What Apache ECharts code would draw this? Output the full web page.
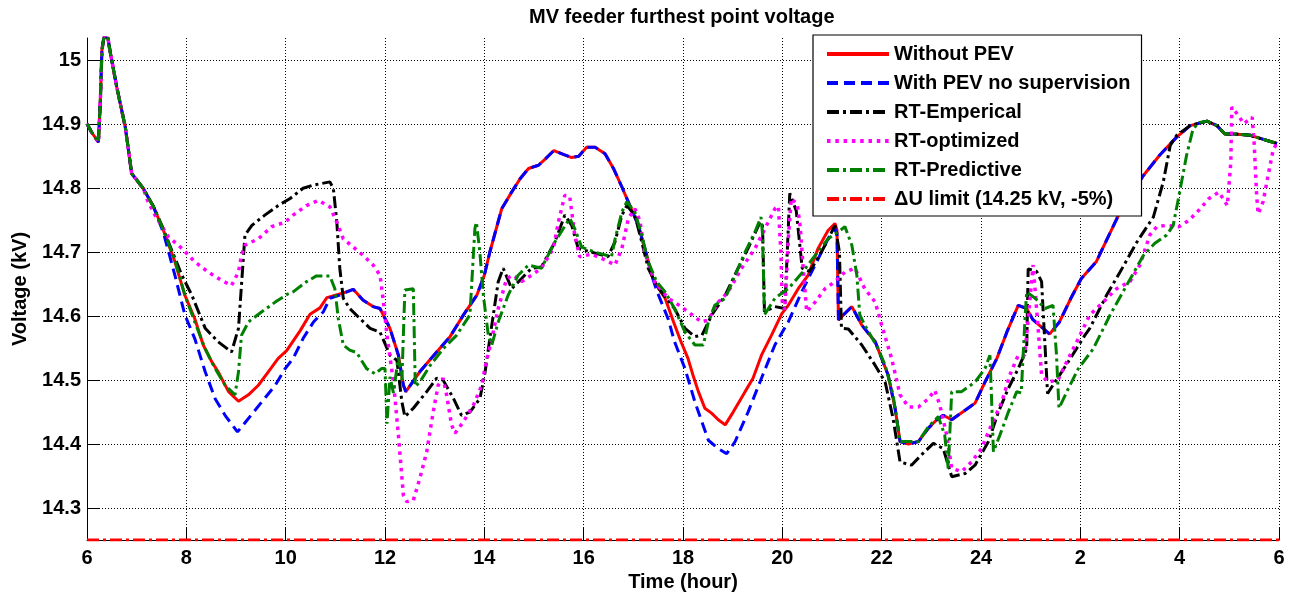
<!DOCTYPE html>
<html><head><meta charset="utf-8">
<script src="https://cdn.jsdelivr.net/npm/echarts@6/dist/echarts.min.js"></script>
<style>html,body{margin:0;padding:0;background:#fff}#c{width:1293px;height:599px}</style>
</head><body><div id="c"></div>
<script>
// ---- tick labels ----
const xTickLabels = ['6','8','10','12','14','16','18','20','22','24','2','4','6'];
const yTickValues = [14.3,14.4,14.5,14.6,14.7,14.8,14.9,15.0];
const yTickLabels = ['14.3','14.4','14.5','14.6','14.7','14.8','14.9','15'];
const seriesNames = ['Without PEV','With PEV no supervision','RT-Emperical','RT-optimized','RT-Predictive','\u0394U limit (14.25 kV, -5%)'];

// ---- data: [hour, kV] ----
const commonStart = [[6.0,14.901],[6.09,14.888],[6.23,14.872],[6.27,14.94],[6.30,15.016],[6.34,15.036],[6.42,15.036],[6.46,15.016],[6.60,14.958],[6.77,14.896],[6.90,14.823],[7.13,14.80]];

const withoutPevEarly = [[7.34,14.771],[7.54,14.734],[7.77,14.685],[7.97,14.633],[8.17,14.596],[8.34,14.555],[8.51,14.529],[8.64,14.513],[8.85,14.482],[9.05,14.467],[9.25,14.477],[9.45,14.492],[9.65,14.513],[9.85,14.534],[10.02,14.546],[10.29,14.577],[10.49,14.603],[10.69,14.613],[10.83,14.629],[11.23,14.638]];

const redBlueMid = [[11.36,14.642],[11.56,14.625],[11.76,14.615],[11.90,14.612],[12.10,14.581],[12.27,14.539],[12.37,14.492],[12.42,14.482],[12.70,14.513],[13.04,14.544],[13.31,14.568],[13.58,14.602],[13.85,14.633],[14.0,14.664],[14.11,14.70],[14.35,14.768],[14.55,14.794],[14.72,14.815],[14.89,14.831],[15.09,14.836],[15.23,14.846],[15.40,14.859],[15.59,14.853],[15.76,14.848],[15.90,14.850],[16.06,14.864],[16.23,14.864],[16.43,14.854],[16.60,14.831],[16.77,14.802],[16.93,14.773],[17.10,14.742],[17.27,14.695],[17.37,14.664]];

const withoutPevEvening = [[17.47,14.648],[17.64,14.628],[17.81,14.591],[17.96,14.560],[18.10,14.534],[18.20,14.508],[18.31,14.482],[18.44,14.456],[18.58,14.448],[18.71,14.438],[18.85,14.430],[19.01,14.450],[19.25,14.482],[19.41,14.503],[19.58,14.539],[19.78,14.570],[19.99,14.604],[20.12,14.617],[20.32,14.643],[20.52,14.664],[20.72,14.706],[20.92,14.734],[21.06,14.745],[21.10,14.735]];

const redBlueLate = [[21.13,14.594],[21.23,14.602],[21.40,14.615],[21.60,14.586],[21.87,14.560],[22.13,14.508],[22.27,14.456],[22.37,14.404],[22.54,14.400],[22.74,14.404],[22.94,14.425],[23.11,14.438],[23.24,14.445],[23.41,14.438],[23.68,14.453],[23.88,14.464],[24.08,14.497],[24.32,14.534],[24.52,14.575],[24.75,14.617],[24.92,14.612],[25.04,14.595],[25.38,14.572],[25.58,14.591],[25.81,14.628],[26.02,14.659],[26.32,14.685],[26.80,14.763],[27.27,14.820],[27.60,14.852],[27.94,14.880],[28.21,14.898]];

const tailEnd = [[28.55,14.905],[28.75,14.898],[28.91,14.885],[29.08,14.885],[29.42,14.883],[29.62,14.878],[29.96,14.870]];

const withPevEarly = [[7.34,14.771],[7.54,14.730],[7.77,14.664],[7.97,14.602],[8.17,14.565],[8.38,14.513],[8.58,14.471],[8.78,14.445],[9.03,14.419],[9.25,14.440],[9.52,14.466],[9.79,14.492],[9.99,14.518],[10.15,14.534],[10.35,14.565],[10.56,14.591],[10.76,14.607],[10.89,14.628],[11.09,14.633],[11.23,14.638]];

const withPevEvening = [[17.47,14.640],[17.70,14.596],[17.83,14.560],[18.04,14.518],[18.24,14.466],[18.51,14.406],[18.71,14.393],[18.88,14.385],[19.05,14.404],[19.31,14.450],[19.58,14.503],[19.85,14.555],[20.12,14.591],[20.39,14.638],[20.66,14.680],[20.92,14.721],[21.06,14.737],[21.10,14.730]];

const rtEmpirical = [[7.34,14.771],[7.54,14.736],[7.64,14.716],[7.91,14.664],[8.11,14.633],[8.38,14.581],[8.64,14.560],[8.91,14.544],[9.05,14.581],[9.18,14.727],[9.32,14.742],[9.58,14.758],[9.85,14.773],[10.09,14.784],[10.35,14.80],[10.56,14.805],[10.89,14.81],[10.96,14.80],[11.03,14.747],[11.09,14.675],[11.16,14.628],[11.29,14.612],[11.50,14.596],[11.70,14.581],[11.90,14.575],[12.10,14.539],[12.24,14.531],[12.34,14.466],[12.40,14.443],[12.57,14.456],[12.84,14.482],[13.04,14.503],[13.17,14.50],[13.38,14.471],[13.54,14.445],[13.71,14.45],[13.91,14.471],[14.01,14.51],[14.15,14.586],[14.28,14.654],[14.38,14.675],[14.55,14.643],[14.75,14.659],[14.95,14.675],[15.15,14.677],[15.42,14.716],[15.62,14.758],[15.76,14.742],[15.89,14.706],[16.16,14.70],[16.49,14.693],[16.63,14.716],[16.77,14.758],[16.87,14.773],[17.03,14.758],[17.17,14.716],[17.30,14.675],[17.47,14.648],[17.64,14.63],[17.83,14.612],[18.04,14.581],[18.24,14.568],[18.38,14.57],[18.58,14.602],[18.85,14.633],[19.11,14.675],[19.31,14.706],[19.55,14.747],[19.60,14.745],[19.64,14.607],[19.85,14.615],[20.05,14.612],[20.15,14.792],[20.28,14.765],[20.40,14.675],[20.55,14.67],[20.75,14.695],[20.92,14.72],[21.06,14.742],[21.15,14.70],[21.19,14.581],[21.33,14.58],[21.60,14.555],[21.87,14.523],[22.07,14.497],[22.23,14.440],[22.37,14.372],[22.60,14.367],[22.80,14.383],[23.04,14.401],[23.24,14.393],[23.41,14.349],[23.68,14.354],[23.88,14.367],[24.15,14.404],[24.35,14.450],[24.55,14.487],[24.75,14.518],[24.92,14.549],[24.95,14.674],[25.12,14.67],[25.22,14.654],[25.34,14.479],[25.49,14.497],[25.76,14.529],[26.09,14.570],[26.19,14.581],[26.53,14.633],[26.80,14.669],[27.14,14.716],[27.47,14.755],[27.67,14.81],[27.81,14.867],[27.94,14.883],[28.21,14.898]];

const rtOptimized = [[7.23,14.779],[7.37,14.758],[7.64,14.724],[7.91,14.706],[8.17,14.685],[8.44,14.669],[8.71,14.656],[8.91,14.648],[9.05,14.669],[9.11,14.695],[9.18,14.711],[9.45,14.721],[9.72,14.740],[9.99,14.747],[10.15,14.758],[10.42,14.773],[10.66,14.781],[10.89,14.771],[11.03,14.747],[11.16,14.721],[11.36,14.708],[11.56,14.695],[11.76,14.680],[11.90,14.664],[11.97,14.622],[12.04,14.570],[12.17,14.497],[12.27,14.414],[12.37,14.320],[12.44,14.310],[12.57,14.312],[12.70,14.346],[12.84,14.388],[12.97,14.450],[13.07,14.492],[13.17,14.503],[13.24,14.477],[13.34,14.430],[13.41,14.417],[13.58,14.435],[13.78,14.461],[13.95,14.492],[14.01,14.518],[14.15,14.565],[14.28,14.612],[14.45,14.659],[14.58,14.664],[14.75,14.654],[14.95,14.664],[15.15,14.675],[15.39,14.706],[15.49,14.747],[15.62,14.789],[15.72,14.787],[15.82,14.727],[15.92,14.693],[16.16,14.697],[16.43,14.688],[16.63,14.680],[16.77,14.706],[16.90,14.753],[17.03,14.768],[17.13,14.75],[17.23,14.70],[17.43,14.654],[17.70,14.628],[17.83,14.622],[18.10,14.607],[18.37,14.591],[18.51,14.594],[18.71,14.622],[18.91,14.638],[19.18,14.675],[19.45,14.706],[19.65,14.737],[19.85,14.768],[19.92,14.772],[19.97,14.70],[20.00,14.622],[20.05,14.61],[20.12,14.72],[20.18,14.784],[20.30,14.775],[20.36,14.74],[20.42,14.675],[20.49,14.607],[20.66,14.622],[20.86,14.643],[21.06,14.654],[21.26,14.669],[21.46,14.675],[21.66,14.643],[21.87,14.622],[22.00,14.586],[22.20,14.534],[22.37,14.477],[22.54,14.458],[22.74,14.458],[22.94,14.471],[23.07,14.484],[23.17,14.461],[23.31,14.414],[23.41,14.362],[23.61,14.357],[23.81,14.372],[24.01,14.393],[24.21,14.430],[24.42,14.466],[24.58,14.508],[24.75,14.539],[24.88,14.539],[24.95,14.596],[25.05,14.680],[25.15,14.581],[25.22,14.508],[25.35,14.497],[25.55,14.50],[25.76,14.534],[25.96,14.565],[26.19,14.602],[26.46,14.622],[26.73,14.643],[27.00,14.654],[27.20,14.680],[27.40,14.727],[27.54,14.740],[27.74,14.742],[27.99,14.740],[28.19,14.75],[28.39,14.766],[28.59,14.784],[28.79,14.794],[28.96,14.773],[29.03,14.841],[29.05,14.927],[29.18,14.914],[29.29,14.901],[29.46,14.911],[29.50,14.87],[29.55,14.789],[29.58,14.760],[29.68,14.779],[29.78,14.820],[29.88,14.859],[29.95,14.870]];

const rtPredictive = [[7.34,14.771],[7.54,14.734],[7.77,14.688],[7.97,14.633],[8.17,14.591],[8.38,14.549],[8.58,14.518],[8.78,14.492],[8.98,14.477],[9.05,14.513],[9.11,14.570],[9.25,14.591],[9.52,14.607],[9.79,14.622],[10.05,14.635],[10.15,14.638],[10.42,14.654],[10.62,14.663],[10.89,14.663],[10.99,14.643],[11.06,14.596],[11.16,14.555],[11.29,14.547],[11.43,14.543],[11.63,14.518],[11.80,14.510],[11.93,14.518],[12.0,14.518],[12.04,14.432],[12.10,14.505],[12.17,14.48],[12.27,14.536],[12.34,14.50],[12.40,14.641],[12.57,14.643],[12.61,14.49],[12.70,14.497],[12.91,14.523],[13.17,14.549],[13.44,14.570],[13.71,14.602],[13.81,14.737],[13.84,14.747],[13.91,14.70],[13.98,14.633],[14.08,14.570],[14.15,14.555],[14.28,14.591],[14.48,14.633],[14.68,14.664],[14.89,14.680],[15.15,14.675],[15.42,14.716],[15.72,14.753],[15.82,14.737],[15.96,14.708],[16.23,14.70],[16.56,14.693],[16.63,14.72],[16.77,14.763],[16.87,14.779],[17.03,14.763],[17.17,14.727],[17.30,14.685],[17.47,14.654],[17.64,14.638],[17.83,14.612],[18.04,14.575],[18.24,14.555],[18.41,14.555],[18.51,14.591],[18.64,14.617],[18.85,14.628],[19.05,14.664],[19.25,14.70],[19.45,14.732],[19.57,14.755],[19.60,14.73],[19.64,14.602],[19.85,14.628],[20.12,14.643],[20.39,14.667],[20.66,14.695],[20.92,14.721],[21.13,14.732],[21.26,14.740],[21.40,14.711],[21.50,14.664],[21.56,14.602],[21.66,14.586],[21.93,14.549],[22.07,14.523],[22.23,14.477],[22.37,14.404],[22.74,14.404],[22.94,14.427],[23.14,14.443],[23.27,14.414],[23.34,14.362],[23.41,14.482],[23.61,14.482],[23.88,14.497],[24.08,14.518],[24.18,14.539],[24.21,14.477],[24.25,14.388],[24.38,14.414],[24.55,14.450],[24.72,14.482],[24.81,14.48],[24.89,14.602],[24.92,14.638],[25.09,14.628],[25.29,14.612],[25.45,14.617],[25.52,14.539],[25.57,14.456],[25.76,14.487],[25.96,14.518],[26.26,14.549],[26.60,14.602],[26.93,14.648],[27.27,14.695],[27.50,14.714],[27.74,14.727],[27.87,14.742],[28.0,14.794],[28.14,14.852],[28.27,14.893],[28.40,14.903]];

const limitLine = [[6,14.25],[30,14.25]];

// ---- build series data ----
const dWithout = [].concat(commonStart, withoutPevEarly, redBlueMid, withoutPevEvening, redBlueLate, tailEnd);
const dWith = [].concat(commonStart, withPevEarly, redBlueMid, withPevEvening, redBlueLate, tailEnd);
const dEmp = [].concat(commonStart, rtEmpirical, tailEnd);
const dOpt = [].concat(commonStart, rtOptimized);
const dPred = [].concat(commonStart, rtPredictive, tailEnd);

const FONT = "'Liberation Sans', Arial, Helvetica, sans-serif";
const gridLine = {show:true, lineStyle:{type:[1,2], color:'#000', width:1}};

function mkLine(name, data, color, width, type, z){
  return {name, type:'line', data, symbol:'none', showSymbol:false, clip:true, z,
    lineStyle:{color, width, type, cap:'butt'}, itemStyle:{color}, emphasis:{disabled:true}};
}

const chart = echarts.init(document.getElementById('c'), null, {renderer:'canvas'});
chart.setOption({
  animation:false,
  backgroundColor:'#fff',
  textStyle:{fontFamily:FONT},
  title:{text:'MV feeder furthest point voltage', left:529, top:5, padding:0,
    textStyle:{fontSize:20, fontWeight:'bold', color:'#000', fontFamily:FONT, lineHeight:24}},
  grid:{left:87, right:14, top:38, bottom:59, containLabel:false},
  legend:{orient:'vertical', left:813, top:35, padding:[9,11,7,12], itemWidth:62, itemHeight:14, itemGap:9,
    backgroundColor:'#fff', borderColor:'#000', borderWidth:1.2,
    itemStyle:{opacity:0, borderWidth:0},
    lineStyle:{width:4},
    textStyle:{fontSize:20, fontWeight:'bold', color:'#000', fontFamily:FONT, lineHeight:20},
    data:seriesNames},
  xAxis:{type:'value', min:6, max:30, interval:2,
    axisLine:{show:true, lineStyle:{color:'#000', width:1}},
    axisTick:{show:true, inside:true, length:12, lineStyle:{color:'#000'}},
    axisLabel:{fontSize:20, fontWeight:'bold', color:'#000', fontFamily:FONT, margin:8,
      formatter:v=>xTickLabels[Math.round((v-6)/2)]},
    splitLine:gridLine,
    name:'Time (hour)', nameLocation:'middle', nameGap:32,
    nameTextStyle:{fontSize:20, fontWeight:'bold', color:'#000', fontFamily:FONT}},
  yAxis:{type:'value', min:14.25, max:15.035, splitNumber:8, minInterval:0.1, maxInterval:0.1,
    axisLine:{show:true, lineStyle:{color:'#000', width:1}},
    axisTick:{show:true, inside:true, length:12, lineStyle:{color:'#000'}},
    axisLabel:{fontSize:20, fontWeight:'bold', color:'#000', fontFamily:FONT, margin:6,
      showMinLabel:false, showMaxLabel:false,
      formatter:v=>{const i=yTickValues.findIndex(t=>Math.abs(t-v)<1e-6); return i<0?'':yTickLabels[i];}},
    splitLine:{show:true, showMaxLine:false, lineStyle:{type:[1,2], color:'#000', width:1}},
    name:'Voltage (kV)', nameLocation:'middle', nameGap:57,
    nameTextStyle:{fontSize:20, fontWeight:'bold', color:'#000', fontFamily:FONT}},
  series:[
    mkLine(seriesNames[0], dWithout, '#ff0000', 3, 'solid', 2),
    mkLine(seriesNames[1], dWith, '#0000ff', 3, [11,6], 3),
    mkLine(seriesNames[2], dEmp, '#000000', 3, [12,4,3,4], 4),
    mkLine(seriesNames[3], dOpt, '#ff00ff', 3.5, [3.5,4.8], 5),
    mkLine(seriesNames[4], dPred, '#008000', 3, [12,4,3,4], 6),
    mkLine(seriesNames[5], limitLine, '#ff0000', 3, [12,4,3,4], 7)
  ]
});
</script></body></html>
